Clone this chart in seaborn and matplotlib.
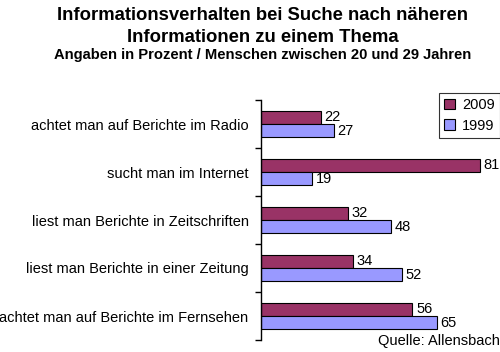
import matplotlib
matplotlib.use("Agg")
import matplotlib.pyplot as plt
import seaborn as sns
import pandas as pd

categories = [
    "achtet man auf Berichte im Radio",
    "sucht man im Internet",
    "liest man Berichte in Zeitschriften",
    "liest man Berichte in einer Zeitung",
    "achtet man auf Berichte im Fernsehen",
]
values_2009 = [22, 81, 32, 34, 56]
values_1999 = [27, 19, 48, 52, 65]
series = ["2009", "1999"]
colors = ["#993366", "#9999FF"]

df = pd.DataFrame({
    "Kategorie": categories * 2,
    "Wert": values_2009 + values_1999,
    "Jahr": [series[0]] * len(categories) + [series[1]] * len(categories),
})

sns.set_style("white")
plt.rcParams["font.family"] = ["Liberation Sans", "DejaVu Sans"]
plt.rcParams["text.color"] = "black"
plt.rcParams["axes.labelcolor"] = "black"
plt.rcParams["xtick.color"] = "black"
plt.rcParams["ytick.color"] = "black"

fig = plt.figure(figsize=(5.0, 3.52), dpi=100)
ax = fig.add_axes([261 / 500, 1 - 340 / 352, 234 / 500, 240 / 352])

sns.barplot(data=df, y="Kategorie", x="Wert", hue="Jahr", order=categories,
            hue_order=series, palette=colors, orient="h", width=0.55,
            edgecolor="black", linewidth=0.8, saturation=1, ax=ax)

ax.set_xlim(0, 86.5)
ax.set_ylim(len(categories) - 0.5, -0.5)
ax.set_xlabel("")
ax.set_ylabel("")
ax.set_xticks([])
for s in ["top", "right", "bottom"]:
    ax.spines[s].set_visible(False)
ax.spines["left"].set_color("black")
ax.spines["left"].set_linewidth(1)
ax.set_yticks(range(len(categories)))
ax.set_yticklabels(categories, fontsize=10.5, color="black")
ax.set_yticks([i - 0.5 for i in range(len(categories) + 1)], minor=True)
ax.tick_params(axis="y", which="major", length=0, pad=9)
ax.tick_params(axis="y", which="minor", length=4, width=1, color="black", direction="out", left=True)

for cont in ax.containers:
    ax.bar_label(cont, padding=2.5, fontsize=10.5, color="black")

leg = ax.legend(loc="upper right", bbox_to_anchor=(1.0, 1 - 93 / 352),
                bbox_transform=fig.transFigure, borderaxespad=0,
                frameon=True, fancybox=False, fontsize=10.5,
                handlelength=0.75, handleheight=0.75, handletextpad=0.5,
                borderpad=0.35, labelspacing=0.45)
leg.get_frame().set_edgecolor("black")
leg.get_frame().set_linewidth(0.8)
for t in leg.get_texts():
    t.set_color("black")

fig.text(0.525, 1 - 15 / 352, "Informationsverhalten bei Suche nach näheren",
         ha="center", va="center", fontsize=13.3, fontweight="bold", color="black")
fig.text(0.525, 1 - 37 / 352, "Informationen zu einem Thema",
         ha="center", va="center", fontsize=13.3, fontweight="bold", color="black")
fig.text(0.525, 1 - 55 / 352, "Angaben in Prozent / Menschen zwischen 20 und 29 Jahren",
         ha="center", va="center", fontsize=10.6, fontweight="bold", color="black")
fig.text(0.999, 1 - 341 / 352, "Quelle: Allensbach", ha="right", va="center",
         fontsize=10.5, color="black")

fig.savefig("out.png", dpi=100)
